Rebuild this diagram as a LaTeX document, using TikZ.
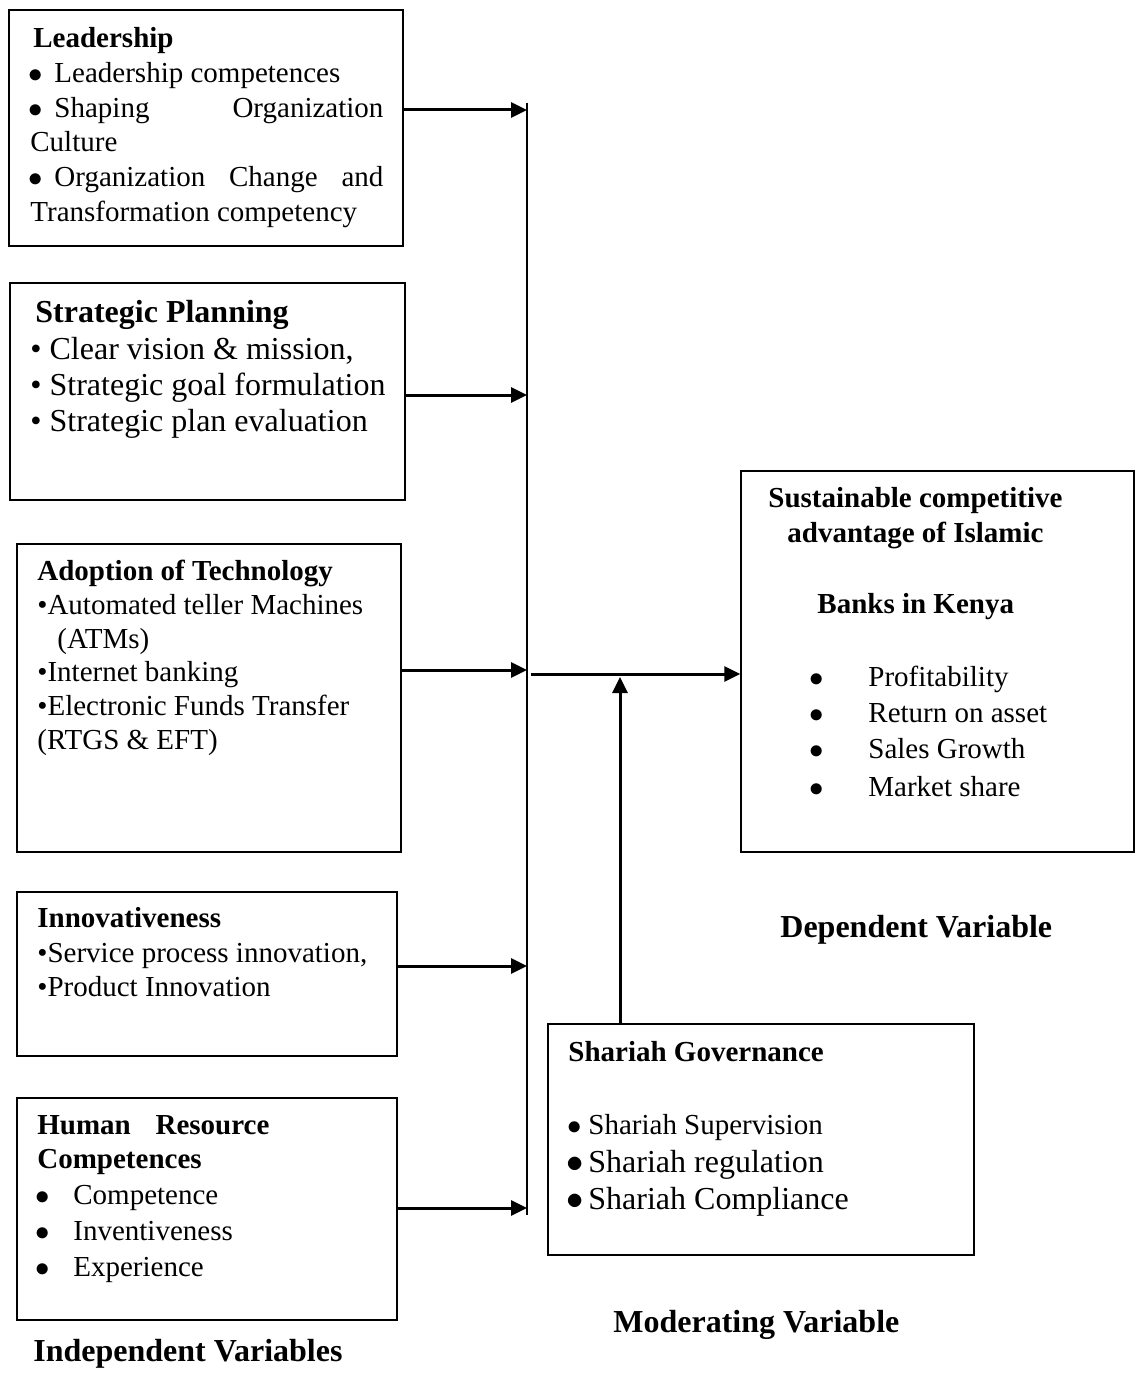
\documentclass[tikz,border=0pt]{standalone}
\usepackage{fontspec}
\setmainfont{Liberation Serif}
\usetikzlibrary{arrows.meta,fit}
\newcommand\bigbul{\makebox[0.38em]{$\bullet$}}
\begin{document}
\begin{tikzpicture}[x=0.5pt,y=-0.5pt,
  box/.style={draw,line width=0.7pt,inner sep=0pt,fit={#1}},
  txt/.style={anchor=base west,inner sep=0pt,font=\fontsize{14.5}{17}\selectfont},
  big/.style={anchor=base west,inner sep=0pt,font=\fontsize{16}{19}\selectfont},
  arr/.style={line width=1.5pt,-{Triangle[length=8pt,width=7.5pt]}},
  bus/.style={line width=0.8pt}]
\useasboundingbox (0,0) rectangle (1136,1396);

% ---------- Leadership ----------
\node[box={(9,10) (403,246)}] (lead) {};
\node[txt] (lead-h) at (33,48) {\textbf{Leadership}};
\node[txt] (lead-1) at (30,83) {\bigbul\hspace{0.45em}Leadership competences};
\node[txt] (lead-2) at (30,118) {\makebox[176.5pt][s]{\bigbul\hspace{0.45em}Shaping Organization}};
\node[txt] (lead-3) at (30,152) {Culture};
\node[txt] (lead-4) at (30,187) {\makebox[176.5pt][s]{\bigbul\hspace{0.45em}Organization Change and}};
\node[txt] (lead-5) at (30,221) {Transformation competency};

% ---------- Strategic Planning ----------
\node[box={(10,283) (405,500)}] (strat) {};
\node[big] (strat-h) at (35,322) {\textbf{Strategic Planning}};
\node[big] (strat-1) at (30,359) {\textbullet\hspace{0.25em}Clear vision \& mission,};
\node[big] (strat-2) at (30,395) {\textbullet\hspace{0.25em}Strategic goal formulation};
\node[big] (strat-3) at (30,431) {\textbullet\hspace{0.25em}Strategic plan evaluation};

% ---------- Adoption of Technology ----------
\node[box={(17,544) (401,852)}] (tech) {};
\node[txt] (tech-h) at (37,580) {\textbf{Adoption of Technology}};
\node[txt] (tech-1) at (37,614) {\textbullet{}Automated teller Machines};
\node[txt] (tech-2) at (57,648) {(ATMs)};
\node[txt] (tech-3) at (37,681) {\textbullet{}Internet banking};
\node[txt] (tech-4) at (37,715) {\textbullet{}Electronic Funds Transfer};
\node[txt] (tech-5) at (37,749) {(RTGS \& EFT)};

% ---------- Innovativeness ----------
\node[box={(17,892) (397,1056)}] (innov) {};
\node[txt] (innov-h) at (37,927) {\textbf{Innovativeness}};
\node[txt] (innov-1) at (37,962) {\textbullet{}Service process innovation,};
\node[txt] (innov-2) at (37,996) {\textbullet{}Product Innovation};

% ---------- Human Resource Competences ----------
\node[box={(17,1098) (397,1320)}] (hr) {};
\node[txt] (hr-h1) at (37,1134) {\makebox[116pt][s]{\textbf{Human Resource}}};
\node[txt] (hr-h2) at (37,1168) {\textbf{Competences}};
\node[txt] (hr-1) at (37,1204) {\makebox[18pt][l]{\bigbul}Competence};
\node[txt] (hr-2) at (37,1240) {\makebox[18pt][l]{\bigbul}Inventiveness};
\node[txt] (hr-3) at (37,1276) {\makebox[18pt][l]{\bigbul}Experience};

\node[big] (indep) at (33,1361) {\textbf{Independent Variables}};

% ---------- Dependent ----------
\node[box={(741,471) (1134,852)}] (dep) {};
\node[txt] (dep-h1) at (768,507) {\textbf{Sustainable competitive}};
\node[txt] (dep-h2) at (787,542) {\textbf{advantage of Islamic}};
\node[txt] (dep-h3) at (817,613) {\textbf{Banks in Kenya}};
\node[txt] (dep-1) at (811,686) {\makebox[28.5pt][l]{\bigbul}Profitability};
\node[txt] (dep-2) at (811,722) {\makebox[28.5pt][l]{\bigbul}Return on asset};
\node[txt] (dep-3) at (811,758) {\makebox[28.5pt][l]{\bigbul}Sales Growth};
\node[txt] (dep-4) at (811,796) {\makebox[28.5pt][l]{\bigbul}Market share};

\node[big] (deplab) at (780,937) {\textbf{Dependent Variable}};

% ---------- Shariah Governance ----------
\node[box={(548,1024) (974,1255)}] (shar) {};
\node[txt] (shar-h) at (568,1061) {\textbf{Shariah Governance}};
\node[txt] (shar-1) at (569,1134) {\makebox[9.5pt][l]{\bigbul}Shariah Supervision};
\node[big] (shar-2) at (569,1172) {\makebox[9.5pt][l]{\bigbul}Shariah regulation};
\node[big] (shar-3) at (569,1209) {\makebox[9.5pt][l]{\bigbul}Shariah Compliance};

\node[big] (modlab) at (613,1332) {\textbf{Moderating Variable}};

% ---------- Connectors ----------
\coordinate (btop) at (527,103);
\coordinate (bbot) at (527,1215);
\draw[bus] (btop) -- (bbot);

\coordinate (j1) at (527,110);
\coordinate (j2) at (527,395);
\coordinate (j3) at (527,670);
\coordinate (j4) at (527,966);
\coordinate (j5) at (527,1208);
\draw[arr] (lead.east |- j1) -- (j1);
\draw[arr] (strat.east |- j2) -- (j2);
\draw[arr] (tech.east |- j3) -- (j3);
\draw[arr] (innov.east |- j4) -- (j4);
\draw[arr] (hr.east |- j5) -- (j5);

\coordinate (jm) at (531,674);
\draw[arr] (jm) -- (dep.west |- jm);

\coordinate (mt) at (620,677);
\draw[arr] (shar.north -| mt) -- (mt);
\end{tikzpicture}
\end{document}
